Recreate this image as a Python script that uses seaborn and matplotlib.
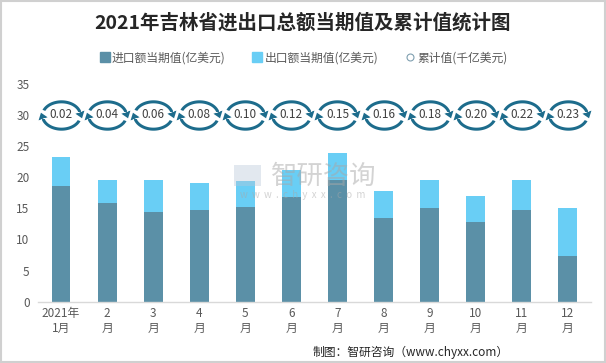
import numpy as np
import pandas as pd
import matplotlib
matplotlib.use("Agg")
import matplotlib.pyplot as plt
from matplotlib.path import Path
from matplotlib.lines import Line2D
from matplotlib.patches import Rectangle
import seaborn as sns

# ---- data ----
months = ["2021年\n1月", "2\n月", "3\n月", "4\n月", "5\n月", "6\n月",
          "7\n月", "8\n月", "9\n月", "10\n月", "11\n月", "12\n月"]
imports = [18.6, 15.8, 14.4, 14.7, 15.2, 16.8, 19.5, 13.4, 15.0, 12.8, 14.7, 7.35]
exports = [4.6, 3.7, 5.1, 4.35, 4.15, 4.3, 4.4, 4.4, 4.5, 4.2, 4.8, 7.65]
cumulative = [0.02, 0.04, 0.06, 0.08, 0.10, 0.12, 0.15, 0.16, 0.18, 0.20, 0.22, 0.23]
cum_labels = ["0.02", "0.04", "0.06", "0.08", "0.10", "0.12",
              "0.15", "0.16", "0.18", "0.20", "0.22", "0.23"]
yticks = [0, 5, 10, 15, 20, 25, 30, 35]

title = "2021年吉林省进出口总额当期值及累计值统计图"
legend_labels = ["进口额当期值(亿美元)", "出口额当期值(亿美元)", "累计值(千亿美元)"]
source = "制图：智研咨询（www.chyxx.com）"

# ---- style ----
sns.set_theme(style="white")
plt.rcParams['font.family'] = ['Noto Sans CJK SC', 'DejaVu Sans']
C_IMP = "#5B90A7"
C_EXP = "#69CEF5"
C_RING = "#1D6C8C"
TXT = "#595959"
ICON_LEVEL = 30  # vertical position of the cumulative icons

df = pd.DataFrame({"month": months, "imp": imports, "exp": exports})
df["total"] = df["imp"] + df["exp"]

fig = plt.figure(figsize=(6.06, 3.63), dpi=100)
ax = fig.add_axes([0.0627, 0.169, 0.9123, 0.600])

sns.barplot(data=df, x="month", y="total", color=C_EXP, width=0.41,
            saturation=1, ax=ax, errorbar=None, linewidth=0, edgecolor="none")
sns.barplot(data=df, x="month", y="imp", color=C_IMP, width=0.41,
            saturation=1, ax=ax, errorbar=None, linewidth=0, edgecolor="none")


# ---- circular-arrow marker ----
def ring_marker():
    a, b, t = 1.0, 0.72, 0.08
    polys = []

    def band(th0, th1):
        th = np.linspace(th0, th1, 40)
        outer = np.c_[(a + t) * np.cos(th), (b + t) * np.sin(th)]
        inner = np.c_[(a - t) * np.cos(th[::-1]), (b - t) * np.sin(th[::-1])]
        return np.vstack([outer, inner, outer[:1]])

    def head(th, direction):
        p = np.array([a * np.cos(th), b * np.sin(th)])
        tan = np.array([-a * np.sin(th), b * np.cos(th)]) * direction
        tan /= np.linalg.norm(tan)
        nrm = np.array([-tan[1], tan[0]])
        w, L = 0.25, 0.34
        tri = np.array([p + nrm * w, p + tan * L, p - nrm * w, p + nrm * w])
        return tri

    d = np.pi / 180
    polys.append(band(14 * d, 158 * d))
    polys.append(head(14 * d, -1))
    polys.append(band(194 * d, 338 * d))
    polys.append(head(194 * d, -1))
    paths = [Path(p, closed=True) for p in polys]
    return Path.make_compound_path(*paths)


xs = np.arange(len(months))
ax.scatter(xs, [ICON_LEVEL] * len(xs), marker=ring_marker(), s=33 ** 2,
           color=C_RING, linewidths=0, zorder=5)
for x, lab in zip(xs, cum_labels):
    ax.text(x, ICON_LEVEL, lab, ha="center", va="center", fontsize=8.5,
            color="#404040", zorder=6)

ax.set_ylim(0, 35)
ax.set_xlim(-0.5, len(months) - 0.5)
ax.set_yticks(yticks)
ax.set_xlabel("")
ax.set_ylabel("")
ax.tick_params(axis="both", length=0, labelsize=8.5, colors=TXT, pad=6)
ax.tick_params(axis="x", pad=4)
for s in ["top", "right", "left"]:
    ax.spines[s].set_visible(False)
ax.spines["bottom"].set_color("#d9d9d9")
ax.spines["bottom"].set_linewidth(1)

# ---- watermark ----
fig.text(0.535, 0.515, "智研咨询", fontsize=19, color="#a8a8a8", alpha=0.5,
         ha="center", va="center", zorder=10)
fig.text(0.500, 0.462, "w  w  w  .  c  h  y  x  x  .  c  o  m", fontsize=7,
         color="#a8a8a8", alpha=0.5, ha="center", va="center", zorder=10)
fig.patches.append(Rectangle((0.386, 0.488), 0.044, 0.058, transform=fig.transFigure,
                             facecolor="#b8c7d8", alpha=0.4, edgecolor="none", zorder=10))

# ---- title, legend, source ----
fig.text(0.5, 0.938, title, ha="center", va="center", fontsize=14,
         fontweight="bold", color="#262626")
handles = [
    Line2D([], [], marker="s", linestyle="none", markersize=6.5,
           markerfacecolor=C_IMP, markeredgecolor=C_IMP),
    Line2D([], [], marker="s", linestyle="none", markersize=6.5,
           markerfacecolor=C_EXP, markeredgecolor=C_EXP),
    Line2D([], [], marker="o", linestyle="none", markersize=5,
           markerfacecolor="white", markeredgecolor="#7f9fb0", markeredgewidth=0.8),
]
leg = fig.legend(handles, legend_labels, loc="center", bbox_to_anchor=(0.5, 0.84),
                 ncol=3, frameon=False, fontsize=8.5, handletextpad=0.1,
                 columnspacing=2.2, handlelength=1.0)
for t in leg.get_texts():
    t.set_color(TXT)

fig.text(0.84, 0.03, source, ha="right", va="center", fontsize=8.5, color="#262626")

fig.patches.append(Rectangle((0.001, 0.002), 0.997, 0.995, transform=fig.transFigure,
                             facecolor="none", edgecolor="#d0d0d0", linewidth=1.5))

fig.savefig("out.png", dpi=100)
